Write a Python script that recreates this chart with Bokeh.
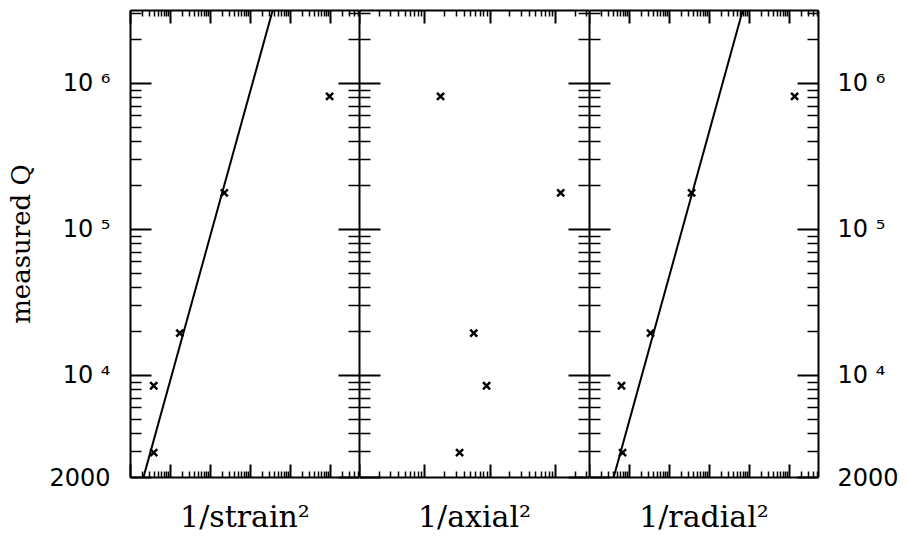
from bokeh.plotting import figure
from bokeh.models import Range1d, LogAxis, FixedTicker
from bokeh.layouts import row
from bokeh.embed import file_html
from bokeh.resources import INLINE

# ---- data ----
measured_q = [8.15e5, 1.78e5, 1.95e4, 8.5e3, 2.96e3]
inv_strain2 = [9.4e14, 2.2e12, 1.7e11, 3.8e10, 3.8e10]
inv_axial2 = [17.4, 1200.0, 56.0, 88.0, 34.0]
inv_radial2 = [1.33e15, 3.55e12, 3.35e11, 6.3e10, 6.7e10]

fit_strain_x = [2.1e10, 3.55e13]
fit_radial_x = [4.0e10, 6.7e13]
fit_q = [2000.0, 3.16e6]

x_labels = ["1/strain\u00b2", "1/axial\u00b2", "1/radial\u00b2"]
q_range = (2000.0, 3.16e6)
x_ranges = [(1e10, 5.25e15), (1.0, 3.31e3), (1e10, 5.25e15)]
y_major = [2000.0, 1e4, 1e5, 1e6]
y_tick_labels = {2000: "2000", 10000: "10 \u2074", 100000: "10 \u2075", 1000000: "10 \u2076"}

y_minor = [m * 10.0 ** k for k in range(3, 7) for m in range(2, 10)
           if q_range[0] < m * 10.0 ** k < q_range[1]]


def log_ticks(lo, hi):
    import math
    k0, k1 = int(math.floor(math.log10(lo))), int(math.ceil(math.log10(hi)))
    major = [10.0 ** k for k in range(k0, k1 + 1) if lo <= 10.0 ** k <= hi]
    minor = [m * 10.0 ** k for k in range(k0, k1 + 1) for m in range(2, 10)
             if lo < m * 10.0 ** k < hi]
    return major, minor


def style_axis(ax, major_in, minor_in, labels=False, standoff=0):
    ax.axis_line_width = 2
    ax.axis_line_color = "black"
    ax.major_tick_in = major_in
    ax.major_tick_out = 0
    ax.minor_tick_in = minor_in
    ax.minor_tick_out = 0
    ax.major_tick_line_width = 2
    ax.minor_tick_line_width = 1.5
    ax.major_tick_line_color = "black"
    ax.minor_tick_line_color = "black"
    if labels:
        ax.major_label_text_font = "DejaVu Sans"
        ax.major_label_text_font_size = "24px"
        ax.major_label_text_color = "black"
        ax.major_label_standoff = standoff
        ax.major_label_overrides = y_tick_labels
    else:
        ax.major_label_text_font_size = "1px"
        ax.major_label_text_alpha = 0
        ax.major_label_standoff = 0


def make_panel(idx, xs, fit_x, width, bl, br, left_labels, right_labels):
    xr = x_ranges[idx]
    p = figure(width=width, height=541, x_axis_type="log", y_axis_type="log",
               x_range=Range1d(*xr), y_range=Range1d(*q_range),
               output_backend="svg", toolbar_location=None,
               min_border_left=bl, min_border_right=br,
               min_border_top=10, min_border_bottom=64,
               background_fill_color="white", border_fill_color="white")
    p.outline_line_color = None
    p.xgrid.visible = False
    p.ygrid.visible = False

    xmaj, xmin = log_ticks(*xr)
    xticker = FixedTicker(ticks=xmaj, minor_ticks=xmin)
    yticker = FixedTicker(ticks=y_major, minor_ticks=y_minor)

    bottom = p.xaxis[0]
    bottom.ticker = xticker
    style_axis(bottom, 13, 6)
    bottom.axis_label = x_labels[idx]
    bottom.axis_label_text_font = "DejaVu Serif"
    bottom.axis_label_text_font_size = "30px"
    bottom.axis_label_text_font_style = "normal"
    bottom.axis_label_text_color = "black"
    bottom.axis_label_standoff = 21

    top = LogAxis(ticker=xticker)
    style_axis(top, 13, 6)
    p.add_layout(top, "above")

    left = p.yaxis[0]
    left.ticker = yticker
    style_axis(left, 21, 11, labels=left_labels, standoff=20)
    if left_labels:
        left.axis_label = "measured Q"
        left.axis_label_text_font = "DejaVu Serif"
        left.axis_label_text_font_size = "26px"
        left.axis_label_text_font_style = "normal"
        left.axis_label_text_color = "black"
        left.axis_label_standoff = 10

    right = LogAxis(ticker=yticker)
    style_axis(right, 21, 11, labels=right_labels, standoff=19)
    p.add_layout(right, "right")

    if fit_x is not None:
        p.line(fit_x, fit_q, line_width=2, color="black")
    p.scatter(xs, measured_q, marker="x", size=10, line_width=2.5, color="black")
    return p


p1 = make_panel(0, inv_strain2, fit_strain_x, 359, 130, 0, True, False)
p2 = make_panel(1, inv_axial2, None, 230, 0, 0, False, False)
p3 = make_panel(2, inv_radial2, fit_radial_x, 319, 0, 90, False, True)

layout = row(p1, p2, p3)
open("out.html", "w").write(file_html(layout, INLINE))
